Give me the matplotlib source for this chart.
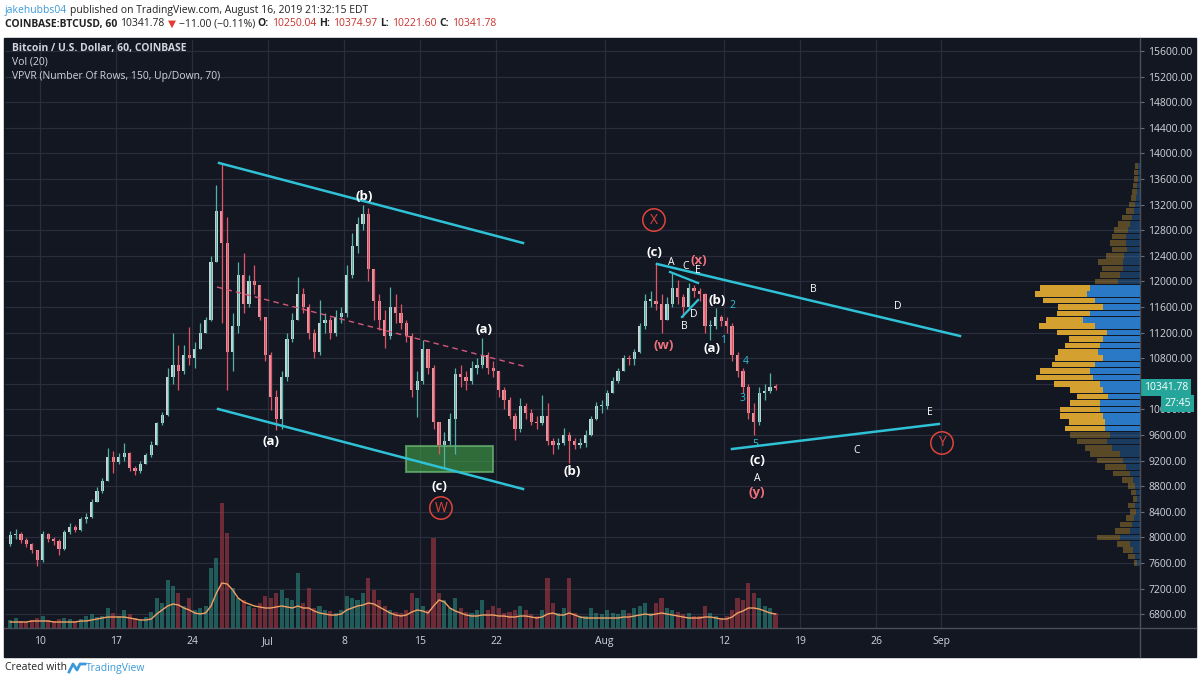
import numpy as np
import matplotlib
matplotlib.use('Agg')
import matplotlib.pyplot as plt
from matplotlib.patches import Rectangle
from matplotlib.lines import Line2D
from matplotlib.transforms import blended_transform_factory

plt.rcParams['font.family'] = ['Open Sans', 'DejaVu Sans']

# ---- data (12h candles) ----
# time in days after 10 Jun 2019 00:00
t0 = np.arange(-3, 68, 0.5)
first_open = 7900
close = [8030, 8050, 7960, 7900, 7800, 7640, 8050, 7970, 7950, 7820,
         8080, 8160, 8120, 8280, 8320, 8560, 8720, 8880, 9250, 9180,
         9250, 9320, 9080, 9030, 9150, 9280, 9450, 9780, 9920, 10500,
         10700, 10600, 10850, 10800, 10950, 11200, 11400, 12300, 13100, 12600,
         10900, 11300, 12100, 11650, 12000, 11950, 11450, 10850, 10200, 9850,
         10500, 11100, 11400, 11800, 11600, 11200, 10900, 11350, 11400, 11200,
         11450, 11500, 12100, 12550, 12900, 13050, 12200, 11700, 11400, 11150,
         11600, 11500, 11350, 11150, 10300, 10450, 10950, 10650, 9800, 9450,
         9500, 9850, 10550, 10500, 10450, 10650, 10700, 10850, 10650, 10600,
         10300, 10150, 9900, 9700, 10050, 9950, 9800, 9780, 9900, 9500,
         9450, 9480, 9600, 9500, 9450, 9480, 9600, 9850, 10050, 10050,
         10250, 10450, 10600, 10800, 10780, 10900, 11300, 11700, 11700, 11650,
         11400, 11650, 11900, 11750, 11600, 11900, 11850, 11800, 11300, 11300,
         11450, 11380, 11300, 10850, 10600, 10350, 9950, 9800, 10250, 10280,
         10350, 10341.78]
high = [8100, 8130, 8080, 7990, 7920, 7810, 8100, 8070, 8000, 7970,
        8120, 8230, 8200, 8320, 8380, 8600, 8780, 8930, 9400, 9350,
        9320, 9470, 9340, 9120, 9200, 9320, 9500, 9800, 9960, 10650,
        11190, 11000, 11000, 11290, 11050, 11350, 11450, 12400, 13500, 13850,
        13000, 11500, 12300, 12440, 12100, 12250, 11950, 11450, 10900, 10300,
        10600, 11200, 11500, 12070, 11900, 11650, 11250, 11710, 11500, 11450,
        11550, 11600, 12250, 12750, 13000, 13190, 13150, 12100, 11800, 11550,
        11910, 11800, 11650, 11400, 11200, 10600, 11090, 10900, 10700, 9800,
        9650, 9950, 10650, 10700, 10600, 10750, 10800, 11110, 10900, 10750,
        10600, 10350, 10200, 9950, 10180, 10100, 10000, 9900, 10230, 10100,
        9550, 9560, 9710, 9650, 9560, 9560, 9680, 9900, 10120, 10150,
        10300, 10500, 10650, 10850, 10850, 10950, 11350, 11800, 11850, 12290,
        11800, 11750, 12150, 12020, 11800, 11980, 11950, 11900, 11820, 11400,
        11580, 11480, 11450, 11350, 10900, 10650, 10400, 10100, 10350, 10400,
        10570, 10400]
low = [7860, 7980, 7920, 7850, 7760, 7550, 7620, 7930, 7880, 7720,
       7800, 8050, 8080, 8100, 8230, 8300, 8550, 8700, 8880, 9000,
       9140, 9200, 9030, 8970, 9000, 9150, 9260, 9440, 9760, 9900,
       10400, 10300, 10550, 10700, 10650, 10950, 11200, 11380, 12300, 11350,
       10300, 10600, 11200, 11500, 11600, 11800, 11400, 10750, 9990, 9680,
       9700, 10450, 11050, 11400, 11500, 11100, 10800, 10850, 11200, 11100,
       11150, 11350, 11450, 12050, 12450, 12800, 12000, 11400, 11240, 10960,
       11100, 11350, 11250, 11050, 10200, 9880, 10400, 10550, 9700, 9300,
       9100, 9450, 9310, 10350, 10300, 10400, 10550, 10650, 10550, 10500,
       10200, 10000, 9850, 9520, 9650, 9850, 9750, 9700, 9750, 9450,
       9310, 9380, 9450, 9160, 9380, 9400, 9420, 9580, 9830, 9950,
       10000, 10250, 10420, 10600, 10700, 10700, 10880, 11250, 11600, 11550,
       11190, 11400, 11600, 11650, 11450, 11550, 11750, 11700, 11200, 11090,
       11250, 11300, 11200, 10750, 10500, 10250, 9850, 9600, 9750, 10150,
       10250, 10300]
# volume bar heights and Vol(20) average (same units)
vol = [8, 10, 7, 6, 8, 10, 12, 8, 7, 9,
       10, 9, 7, 9, 12, 14, 11, 12, 20, 15,
       12, 18, 14, 10, 9, 11, 16, 30, 25, 48,
       42, 35, 22, 30, 18, 20, 22, 60, 70, 125,
       95, 40, 30, 28, 22, 20, 25, 32, 30, 35,
       38, 30, 28, 55, 25, 40, 20, 22, 18, 17,
       15, 18, 32, 30, 28, 35, 50, 38, 28, 22,
       18, 16, 15, 18, 35, 30, 22, 18, 90, 35,
       28, 20, 30, 20, 16, 15, 18, 28, 18, 22,
       20, 15, 16, 18, 22, 18, 14, 12, 18, 50,
       25, 15, 20, 50, 15, 12, 12, 20, 15, 14,
       18, 15, 14, 18, 15, 20, 22, 25, 15, 25,
       30, 20, 18, 16, 14, 15, 12, 12, 22, 15,
       12, 10, 12, 18, 30, 28, 45, 35, 30, 22,
       20, 15]
vol_ma = [6, 6, 6, 6, 7, 7, 7, 7, 6, 6,
          6, 6, 6, 7, 7, 8, 9, 10, 11, 11,
          11, 11, 10, 9, 8, 8, 9, 14, 18, 22,
          24, 23, 20, 18, 15, 14, 15, 22, 35, 45,
          44, 38, 30, 26, 24, 22, 21, 20, 20, 21,
          22, 21, 20, 22, 20, 20, 17, 15, 14, 13,
          13, 14, 18, 20, 22, 23, 25, 24, 21, 18,
          15, 13, 12, 13, 16, 18, 17, 15, 22, 28,
          26, 20, 17, 15, 13, 12, 12, 13, 13, 13,
          12, 12, 11, 11, 12, 12, 11, 10, 11, 14,
          15, 13, 13, 15, 13, 11, 10, 10, 10, 10,
          10, 10, 10, 11, 11, 12, 13, 14, 13, 14,
          15, 14, 13, 12, 11, 10, 10, 10, 11, 11,
          10, 9, 9, 11, 15, 17, 20, 20, 19, 17,
          15, 14]

# volume profile rows (price, up volume, down volume)
vp_price = list(range(7600, 13900, 100))
vp_up = [3, 5, 7, 10, 20, 10, 8, 6, 4, 5, 3, 4, 5, 7, 10, 14, 17, 20, 28, 33,
         30, 35, 35, 37, 40, 40, 32, 37, 40, 47, 50, 45, 37, 42, 40, 37, 33, 45, 57, 50,
         37, 45, 53, 50, 22, 20, 17, 17, 16, 13, 14, 14, 12, 10, 8, 6, 5, 4, 3, 3,
         2, 2, 2]
vp_down = [3, 7, 10, 13, 23, 15, 12, 8, 6, 7, 4, 5, 7, 11, 17, 21, 26, 30, 27, 30,
           40, 40, 36, 43, 40, 30, 31, 33, 46, 57, 50, 43, 48, 40, 35, 34, 50, 56, 37, 33,
           45, 52, 52, 50, 23, 20, 21, 25, 18, 15, 16, 14, 14, 12, 10, 8, 6, 5, 5, 4,
           4, 4, 3]
va_low, va_high = 9650, 11950

date_ticks = [0, 7, 14, 21, 28, 35, 42, 52, 63, 70, 77, 83]
date_labels = ['10', '17', '24', 'Jul', '8', '15', '22', 'Aug', '12', '19', '26', 'Sep']
price_ticks = list(range(6800, 15601, 400))
last_price = 10341.78

# ---- drawing ----
W, H = 1200, 683
BG = '#131722'
GRID = '#2a2e3b'
TXT = '#d1d4dc'
CYAN = '#2fc1d6'
RED = '#e0443c'
PINK = '#f0727c'

fig = plt.figure(figsize=(12, 6.83), dpi=100)
fig.patch.set_facecolor('white')

def fx(px):
    return px / W

def fy(py):
    return 1 - py / H

fig.patches.append(Rectangle((fx(4), fy(657)), fx(1196) - fx(4), fy(38) - fy(657),
                             transform=fig.transFigure, color=BG, zorder=0))
pos = [fx(5), fy(628), (1140 - 5) / W, (628 - 40) / H]

ax = fig.add_axes(pos, zorder=1)
ax.set_facecolor(BG)
ax.set_xlim(-3.224, 101.32)
ax.set_ylim(6584, 15772)
ax.set_yticks(price_ticks)
# the 10400 label sits under the last-price tag
ax.set_yticklabels(['' if p == 10400 else '%.2f' % p for p in price_ticks])
ax.yaxis.tick_right()
ax.set_xticks(date_ticks)
ax.set_xticklabels(date_labels)
ax.tick_params(axis='y', colors=TXT, labelsize=7.5, length=3, pad=3, width=0.8)
ax.tick_params(axis='x', colors=TXT, labelsize=7.5, length=0, pad=6)
ax.tick_params(axis='y', color='#6a6d78')
ax.grid(True, color=GRID, lw=0.9)
for s in ax.spines.values():
    s.set_visible(False)

# volume
ax_v = fig.add_axes(pos, zorder=2)
ax_v.patch.set_visible(False)
ax_v.set_axis_off()
ax_v.set_xlim(-3.224, 101.32)
ax_v.set_ylim(0, 588)
opens = [first_open] + close[:-1]
tc = t0 + 0.25
up = np.array(close) >= np.array(opens)
vcol = np.where(up, '#2a8a80', '#a83a45')
ax_v.bar(tc, vol, width=0.38, color=vcol, alpha=0.6)
ax_v.plot(tc, vol_ma, color='#f0a064', lw=1)

# volume profile
ax_p = fig.add_axes(pos, zorder=2)
ax_p.patch.set_visible(False)
ax_p.set_axis_off()
ax_p.set_xlim(1135, 0)
ax_p.set_ylim(6584, 15772)
for p, u, d in zip(vp_price, vp_up, vp_down):
    a = 0.95 if va_low <= p <= va_high else 0.35
    ax_p.barh(p, u, height=88, left=0, color='#2b7fd0', alpha=a, lw=0)
    ax_p.barh(p, d, height=88, left=u, color='#e0a830', alpha=a, lw=0)

# candles + drawings
ax_c = fig.add_axes(pos, zorder=3, sharex=ax, sharey=ax)
ax_c.patch.set_visible(False)
ax_c.set_axis_off()
o = np.array(opens, float)
c = np.array(close, float)
hi = np.maximum(np.array(high, float), np.maximum(o, c))
lo = np.minimum(np.array(low, float), np.minimum(o, c))
wick = np.where(up, '#53b3a6', '#e05466')
body = np.where(up, '#c9d6d5', '#e7939d')
ax_c.vlines(tc, lo, hi, colors=wick, lw=0.9)
bh = np.maximum(np.abs(c - o), 20)
ax_c.bar(tc, bh, bottom=np.minimum(o, c), width=0.3, color=body, lw=0)

def seg(p1, p2, **kw):
    ax_c.plot([p1[0], p2[0]], [p1[1], p2[1]], **kw)

ax_c.add_patch(Rectangle((33.71, 9022), 8.01, 406, facecolor='#3f9a48', alpha=0.65,
                         edgecolor='#74c47a', lw=1.5))
seg((16.49, 13850), (44.49, 12600), color=CYAN, lw=1.8)
seg((16.40, 10006), (44.49, 8756), color=CYAN, lw=1.8)
seg((16.30, 11912), (44.86, 10662), color='#d4587a', lw=1, dashes=(4, 3))
seg((56.83, 12272), (84.74, 11147), color=CYAN, lw=1.8)
seg((63.74, 9381), (82.80, 9772), color=CYAN, lw=1.8)
seg((58.03, 12147), (60.61, 11975), color=CYAN, lw=1.6)
seg((59.13, 11444), (60.61, 11709), color=CYAN, lw=1.6)

bold_labels = [('(b)', 29.84, 13319), ('(a)', 21.28, 9506), ('(a)', 40.90, 11256),
               ('(c)', 36.75, 8788), ('(b)', 49.00, 9022), ('(c)', 56.55, 12459),
               ('(a)', 61.90, 10944), ('(b)', 62.40, 11694), ('(c)', 66.04, 9209)]
for s, x, y in bold_labels:
    ax_c.text(x, y, s, color='white', fontsize=9.5, fontweight='bold', ha='center', va='center')
red_labels = [('(w)', 57.47, 11006), ('(x)', 60.70, 12334), ('(y)', 66.04, 8694)]
for s, x, y in red_labels:
    ax_c.text(x, y, s, color=PINK, fontsize=9.5, fontweight='bold', ha='center', va='center')
small_labels = [('A', 58.12, 12303), ('C', 59.50, 12225), ('E', 60.61, 12163),
                ('B', 59.32, 11288), ('D', 60.24, 11475), ('B', 71.20, 11866),
                ('D', 79.03, 11600), ('E', 81.97, 9944), ('C', 75.25, 9350),
                ('A', 66.04, 8913)]
for s, x, y in small_labels:
    ax_c.text(x, y, s, color='white', fontsize=7.5, ha='center', va='center')
num_labels = [('2', 63.75, 11616), ('1', 62.91, 11084), ('4', 65.03, 10756),
              ('3', 64.75, 10163), ('5', 65.86, 9459)]
for s, x, y in num_labels:
    ax_c.text(x, y, s, color=CYAN, fontsize=7.5, ha='center', va='center')
circles = [('X', 56.55, 12959), ('Y', 83.08, 9475), ('W', 36.93, 8459)]
for s, x, y in circles:
    ax_c.scatter([x], [y], s=260, facecolors='none', edgecolors=RED, lw=1.1)
    ax_c.text(x, y, s, color=RED, fontsize=10, ha='center', va='center')

# last price tags
tr = blended_transform_factory(ax.transAxes, ax.transData)
ax.text(1.0035, last_price, '10341.78', transform=tr, color='white', fontsize=7.5,
        ha='left', va='center', clip_on=False, zorder=5,
        bbox=dict(boxstyle='square,pad=0.3', fc='#26a69a', ec='none'))
ax.annotate('27:45', xy=(1.0, last_price), xycoords=tr, xytext=(36.5, -11.5),
            textcoords='offset points', color='white', fontsize=7.5, ha='right', va='center',
            bbox=dict(boxstyle='square,pad=0.3', fc='#26a69a', ec='none'),
            annotation_clip=False, zorder=5)

# axis separators
fig.add_artist(Line2D([fx(1140), fx(1140)], [fy(38), fy(657)], color='#4a4e5a', lw=1))
fig.add_artist(Line2D([fx(4), fx(1196)], [fy(628), fy(628)], color='#4a4e5a', lw=1))

# legend texts in chart
fig.text(fx(12), fy(48), 'Bitcoin / U.S. Dollar, 60, COINBASE', color=TXT, fontsize=7.5,
         fontweight='bold', va='center')
fig.text(fx(12), fy(62), 'Vol (20)', color=TXT, fontsize=7.5, va='center')
fig.text(fx(12), fy(76), 'VPVR (Number Of Rows, 150, Up/Down, 70)', color=TXT, fontsize=7.5,
         va='center')

# header
renderer = fig.canvas.get_renderer()

def seq_text(x_px, y_px, parts, size=7.5):
    x = x_px
    for s, col, wt in parts:
        t = fig.text(fx(x), fy(y_px), s, color=col, fontsize=size, fontweight=wt,
                     va='center', ha='left')
        x += t.get_window_extent(renderer=renderer).width + 3

DK = '#222222'
DR = '#c8302c'
seq_text(5, 10, [('jakehubbs04', '#3a9ad9', 'normal'),
                 ('published on TradingView.com, August 16, 2019 21:32:15 EDT', DK, 'normal')])
seq_text(5, 24, [('COINBASE:BTCUSD, 60', DK, 'bold'), ('10341.78', DK, 'normal'),
                 ('\u25bc', '#e53935', 'normal'), ('\u221211.00 (\u22120.11%)', DK, 'normal'),
                 ('O:', DK, 'bold'), ('10250.04', DR, 'normal'),
                 ('H:', DK, 'bold'), ('10374.97', DR, 'normal'),
                 ('L:', DK, 'bold'), ('10221.60', DR, 'normal'),
                 ('C:', DK, 'bold'), ('10341.78', DR, 'normal')])

# footer
fig.text(fx(5), fy(668), 'Created with', color=DK, fontsize=7.5, va='center')
fig.add_artist(Line2D([fx(69), fx(73), fx(77), fx(80), fx(85)],
                      [fy(672), fy(664), fy(670), fy(664), fy(664)],
                      color='#3a9ad9', lw=2))
fig.text(fx(86), fy(668), 'TradingView', color='#3a9ad9', fontsize=7.5, va='center')

fig.savefig('out.png', dpi=100, facecolor='white')
